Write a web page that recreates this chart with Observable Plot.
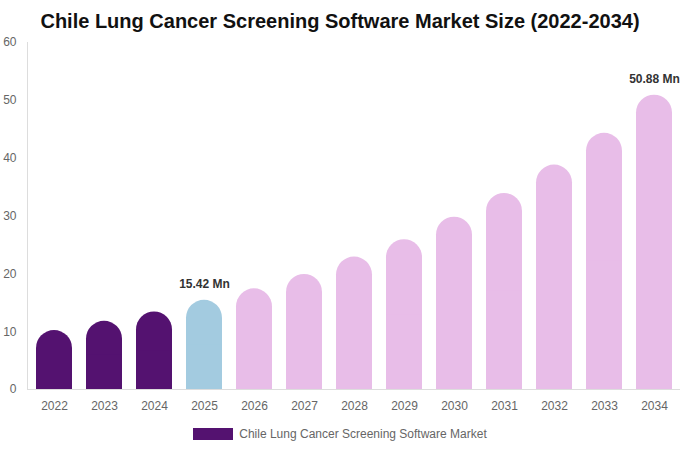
<!DOCTYPE html>
<html>
<head>
<meta charset="utf-8">
<script src="https://cdn.jsdelivr.net/npm/d3@7"></script>
<script src="https://cdn.jsdelivr.net/npm/@observablehq/plot@0.6"></script>
<style>
  body { margin: 0; background: #fff; font-family: "Liberation Sans", Arial, sans-serif; }
  #wrap { position: relative; width: 680px; height: 450px; }
  #title { position: absolute; top: 0; left: 0; width: 680px; height: 42px; line-height: 42px; text-align: center;
           font-size: 20px; font-weight: bold; color: #111; }
  #legend { position: absolute; top: 427px; left: 0; width: 680px; display: flex; justify-content: center; align-items: center;
            font-size: 12px; color: #666; }
  #legend .sw { width: 40px; height: 12px; background: #541270; margin-right: 6px; }
  #chart { position: absolute; top: 0; left: 0; }
</style>
</head>
<body>
<div id="wrap">
  <div id="chart"></div>
  <div id="title">Chile Lung Cancer Screening Software Market Size (2022-2034)</div>
  <div id="legend"><div class="sw"></div><span>Chile Lung Cancer Screening Software Market</span></div>
</div>
<script>
const years = ["2022","2023","2024","2025","2026","2027","2028","2029","2030","2031","2032","2033","2034"];
const values = [10.2, 11.8, 13.4, 15.42, 17.4, 19.9, 22.9, 25.9, 29.8, 33.9, 38.8, 44.3, 50.88];
const barColors = ["#541270","#541270","#541270","#a3cbe0","#e8bde8","#e8bde8","#e8bde8","#e8bde8","#e8bde8","#e8bde8","#e8bde8","#e8bde8","#e8bde8"];
const labelYears = ["2025", "2034"];
const yTicks = [0, 10, 20, 30, 40, 50, 60];

const data = years.map((y, i) => ({year: y, value: values[i], color: barColors[i]}));
const labelled = data.filter(d => labelYears.includes(d.year));

const plot = Plot.plot({
  width: 680,
  height: 430,
  marginTop: 42,
  marginBottom: 41,
  marginLeft: 27,
  marginRight: 0,
  style: {fontFamily: "'Liberation Sans', Arial, sans-serif", fontSize: "12px", overflow: "visible"},
  x: {domain: years, paddingInner: 0.28, paddingOuter: 0.14, label: null},
  y: {domain: [0, 60], label: null},
  marks: [
    Plot.axisY({ticks: yTicks, tickSize: 0, tickPadding: 11, fill: "#666", fontSize: 12, label: null}),
    Plot.axisX({tickSize: 0, tickPadding: 12, fill: "#666", fontSize: 12, label: null}),
    Plot.frame({anchor: "left", stroke: "#ddd"}),
    Plot.barY(data, {x: "year", y: "value", fill: "color", rx: 18}),
    Plot.barY(data, {x: "year", y: d => d.value / 2, fill: "color"}),
    Plot.ruleY([0], {stroke: "#ddd"}),
    Plot.text(labelled, {x: "year", y: "value", text: d => d.value.toFixed(2) + " Mn", dy: -16, fontWeight: "bold", fill: "#333", fontSize: 12})
  ]
});
document.getElementById("chart").appendChild(plot);
</script>
</body>
</html>
